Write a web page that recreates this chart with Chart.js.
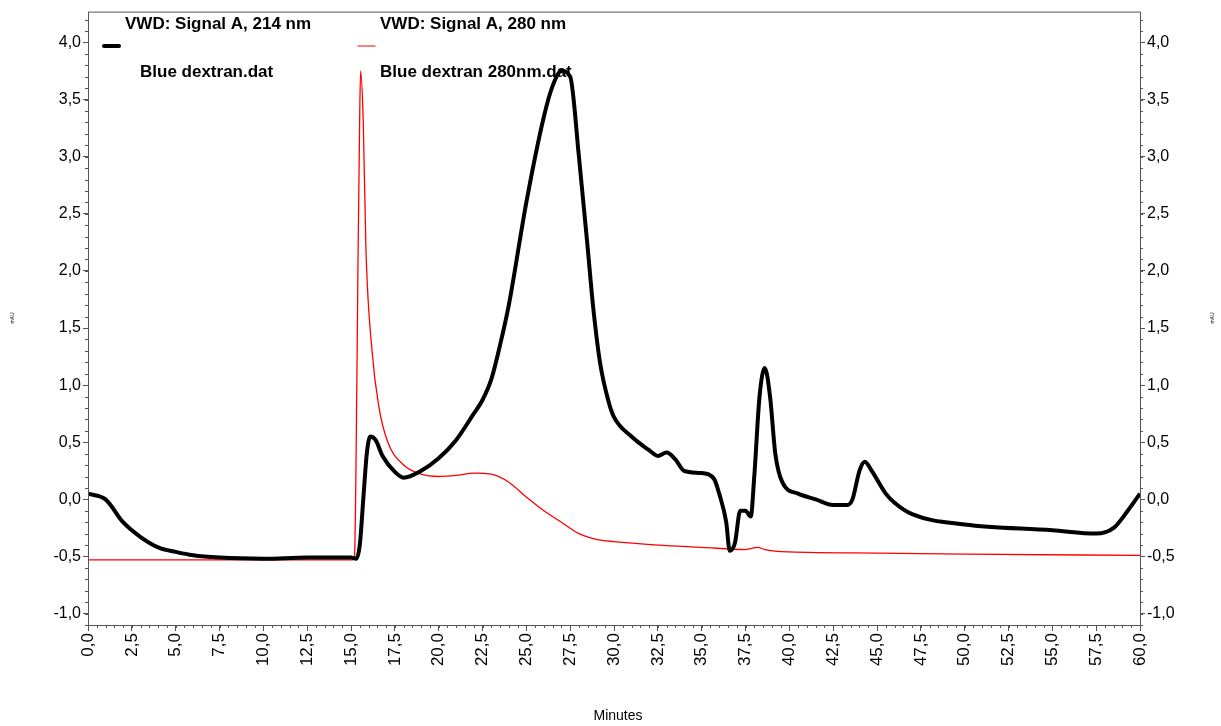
<!DOCTYPE html>
<html>
<head>
<meta charset="utf-8">
<script src="https://cdn.jsdelivr.net/npm/chart.js@4"></script>
<style>
  html, body { margin: 0; padding: 0; background: #fff; }
  #wrap { width: 1221px; height: 726px; }
</style>
</head>
<body>
<div id="wrap"><canvas id="chart"></canvas></div>
<script>
// 214 nm trace (black)
const timesA = [0, 1, 2, 3, 4, 5, 6, 7.5, 10, 12.5, 15, 15.3, 15.5, 15.7, 15.9, 16.1, 16.4, 16.8, 17.5, 18, 19, 20, 21, 22, 22.5, 23, 23.5, 24, 25, 26, 26.5, 27, 27.5, 28, 28.5, 28.8, 29.2, 29.7, 30, 31, 32, 32.5, 33, 33.5, 34, 35, 35.7, 36, 36.4, 36.6, 36.9, 37.2, 37.5, 37.8, 38, 38.3, 38.6, 38.9, 39.2, 39.6, 40.5, 41.5, 42.5, 43.3, 43.6, 44, 44.3, 44.7, 45.5, 46, 47, 50, 55, 57.5, 58.5, 59.3, 60];
const signalA = [0.05, 0.0, -0.2, -0.33, -0.42, -0.46, -0.49, -0.51, -0.52, -0.51, -0.51, -0.52, -0.4, 0.0, 0.4, 0.55, 0.52, 0.38, 0.24, 0.19, 0.25, 0.36, 0.52, 0.75, 0.87, 1.05, 1.35, 1.7, 2.6, 3.35, 3.62, 3.75, 3.7, 3.0, 2.2, 1.7, 1.2, 0.85, 0.72, 0.55, 0.43, 0.38, 0.41, 0.35, 0.25, 0.23, 0.18, 0.05, -0.2, -0.45, -0.38, -0.1, -0.1, -0.15, 0.2, 0.9, 1.15, 0.9, 0.4, 0.15, 0.05, 0.0, -0.05, -0.05, 0.0, 0.25, 0.33, 0.25, 0.05, -0.03, -0.13, -0.22, -0.27, -0.3, -0.25, -0.1, 0.05];

// 280 nm trace (red)
const timesB = [0, 5, 10, 15.1, 15.2, 15.3, 15.4, 15.5, 15.55, 15.7, 15.85, 16.2, 16.6, 17.1, 18, 19, 20, 21, 22, 23, 24, 25, 26, 27, 28, 29, 30, 32.5, 35, 37.5, 38.2, 38.6, 40, 45, 50, 60];
const signalB = [-0.53, -0.53, -0.53, -0.53, -0.5, 0.5, 2.1, 3.4, 3.75, 3.3, 2.2, 1.3, 0.8, 0.5, 0.3, 0.22, 0.2, 0.21, 0.23, 0.22, 0.15, 0.02, -0.1, -0.2, -0.3, -0.35, -0.37, -0.4, -0.42, -0.44, -0.42, -0.44, -0.46, -0.47, -0.48, -0.49];

const xTicks = [];
for (let i = 0; i <= 24; i++) xTicks.push(i * 2.5);

const fmt = v => v.toFixed(1).replace('.', ',');
const toPoints = (xs, ys) => xs.map((x, i) => ({ x, y: ys[i] }));

const decorations = {
    id: 'decorations',
    afterDraw(chart) {
        const { ctx, chartArea: a, scales } = chart;
        const xs = scales.x, ys = scales.y;
        ctx.save();
        // frame
        ctx.strokeStyle = '#555';
        ctx.lineWidth = 1;
        ctx.strokeRect(a.left + 0.5, a.top + 0.5, a.right - a.left, a.bottom - a.top);
        // minor ticks
        ctx.beginPath();
        for (let v = -1.1; v <= 4.25; v += 0.1) {
            const py = Math.round(ys.getPixelForValue(v)) + 0.5;
            ctx.moveTo(a.left, py); ctx.lineTo(a.left - 3, py);
            ctx.moveTo(a.right, py); ctx.lineTo(a.right + 3, py);
        }
        for (let t = 0; t <= 60; t += 0.5) {
            const px = Math.round(xs.getPixelForValue(t)) + 0.5;
            ctx.moveTo(px, a.bottom); ctx.lineTo(px, a.bottom + 3);
        }
        ctx.stroke();
        // x tick labels, rotated bottom-to-top
        ctx.fillStyle = '#000';
        ctx.font = '17px Arial, "Liberation Sans"';
        ctx.textAlign = 'right';
        ctx.textBaseline = 'middle';
        xTicks.forEach(t => {
            const px = xs.getPixelForValue(t);
            ctx.save();
            ctx.translate(px, a.bottom + 8);
            ctx.rotate(-Math.PI / 2);
            ctx.fillText(fmt(t), 0, 0);
            ctx.restore();
        });
        // axis titles
        ctx.textAlign = 'center';
        ctx.font = '14px Arial, "Liberation Sans"';
        ctx.fillText('Minutes', (a.left + a.right) / 2 + 4, 716);
        ctx.font = '5px Arial, "Liberation Sans"';
        [[13, 318], [1213, 318]].forEach(([x, y]) => {
            ctx.save();
            ctx.translate(x, y);
            ctx.rotate(-Math.PI / 2);
            ctx.fillText('mAU', 0, 0);
            ctx.restore();
        });
        // legend
        ctx.textAlign = 'left';
        ctx.font = 'bold 17px Arial, "Liberation Sans"';
        ctx.fillText('VWD: Signal A, 214 nm', 125, 24);
        ctx.fillText('Blue dextran.dat', 140, 72);
        ctx.fillText('VWD: Signal A, 280 nm', 380, 24);
        ctx.fillText('Blue dextran 280nm.dat', 380, 72);
        ctx.lineCap = 'round';
        ctx.strokeStyle = '#000'; ctx.lineWidth = 4;
        ctx.beginPath(); ctx.moveTo(104, 46); ctx.lineTo(119, 46); ctx.stroke();
        ctx.strokeStyle = '#ff0000'; ctx.lineWidth = 1.2;
        ctx.beginPath(); ctx.moveTo(358, 46); ctx.lineTo(375, 46); ctx.stroke();
        ctx.restore();
    }
};

const yAxis = (position, width) => ({
    type: 'linear',
    position,
    min: -1.1,
    max: 4.27,
    afterBuildTicks: s => { s.ticks = [-1, -0.5, 0, 0.5, 1, 1.5, 2, 2.5, 3, 3.5, 4].map(v => ({ value: v })); },
    afterFit: s => { s.width = width; },
    border: { display: false },
    grid: { drawOnChartArea: false, tickLength: 5, color: '#555' },
    ticks: { color: '#000', padding: 2, font: { size: 16, family: 'Arial, "Liberation Sans"' }, callback: v => fmt(v) }
});

new Chart(document.getElementById('chart'), {
    type: 'line',
    data: {
        datasets: [
            { label: '214 nm', data: toPoints(timesA, signalA), borderColor: '#000', borderWidth: 4, pointRadius: 0, cubicInterpolationMode: 'monotone', yAxisID: 'y' },
            { label: '280 nm', data: toPoints(timesB, signalB), borderColor: '#ff0000', borderWidth: 1.3, pointRadius: 0, cubicInterpolationMode: 'monotone', yAxisID: 'y' }
        ]
    },
    options: {
        responsive: true,
        maintainAspectRatio: false,
        animation: false,
        layout: { padding: { top: 10, left: 0, right: 0, bottom: 0 } },
        plugins: { legend: { display: false }, tooltip: { enabled: false } },
        scales: {
            x: {
                type: 'linear',
                min: 0,
                max: 60,
                afterBuildTicks: s => { s.ticks = xTicks.map(v => ({ value: v })); },
                afterFit: s => { s.height = 101; },
                border: { display: false },
                grid: { drawOnChartArea: false, tickLength: 6, color: '#555' },
                ticks: { display: false }
            },
            y: yAxis('left', 88),
            y2: yAxis('right', 81)
        }
    },
    plugins: [decorations]
});
</script>
</body>
</html>
